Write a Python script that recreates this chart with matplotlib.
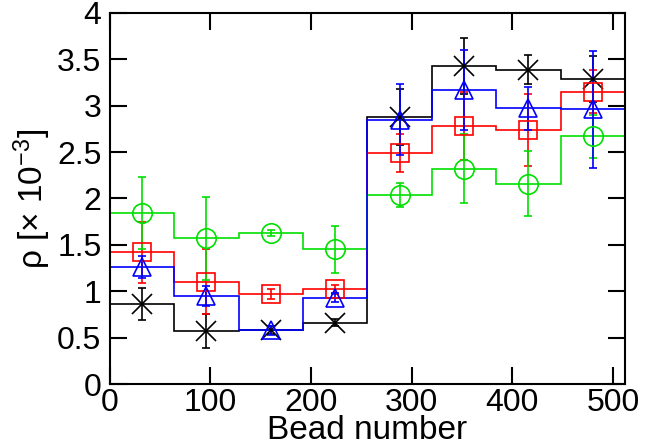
import numpy as np
import matplotlib
matplotlib.use("Agg")
import matplotlib.pyplot as plt

plt.rcParams["font.family"] = ["Liberation Sans", "DejaVu Sans"]
plt.rcParams["mathtext.fontset"] = "custom"
plt.rcParams["mathtext.rm"] = "Liberation Sans"
plt.rcParams["mathtext.default"] = "regular"

# bins of 64 beads along the chain
bin_edges = np.arange(0, 513, 64)
bin_centers = (bin_edges[:-1] + bin_edges[1:]) / 2

black_vals = [0.86, 0.57, 0.58, 0.66, 2.88, 3.43, 3.39, 3.29]
black_err = [0.17, 0.18, 0.04, 0.04, 0.30, 0.30, 0.16, 0.25]
red_vals = [1.42, 1.10, 0.97, 1.02, 2.49, 2.78, 2.74, 3.15]
red_err = [0.33, 0.35, 0.05, 0.05, 0.20, 0.37, 0.39, 0.23]
green_vals = [1.84, 1.57, 1.63, 1.45, 2.04, 2.32, 2.16, 2.67]
green_err = [0.39, 0.45, 0.03, 0.25, 0.13, 0.37, 0.35, 0.23]
blue_vals = [1.26, 0.95, 0.58, 0.93, 2.85, 3.17, 2.97, 2.96]
blue_err = [0.12, 0.11, 0.05, 0.05, 0.38, 0.43, 0.23, 0.63]

fig = plt.figure(figsize=(6.46, 4.46), dpi=100)
ax = fig.add_axes([0.170, 0.139, 0.7975, 0.832])

series = [
    (black_vals, black_err, "black", "x", 14),
    (red_vals, red_err, "red", "s", 13),
    (green_vals, green_err, "#00e000", "o", 14),
    (blue_vals, blue_err, "blue", "^", 13),
]
for vals, err, col, mk, ms in series:
    ax.stairs(vals, bin_edges, color=col, lw=1.2, baseline=None)
    ax.errorbar(bin_centers, vals, yerr=err, fmt=mk, color=col, ms=ms,
                mfc="none", mec=col, mew=1.2, elinewidth=1.2, capsize=3,
                capthick=1.2)

ax.set_xlim(0, 512)
ax.set_ylim(0, 4)
ax.set_xticks([0, 100, 200, 300, 400, 500])
ax.set_yticks(np.arange(0, 4.01, 0.5))
ax.set_yticklabels(["0", "0.5", "1", "1.5", "2", "2.5", "3", "3.5", "4"])
ax.tick_params(direction="in", length=12, width=1.5, labelsize=23,
               top=True, right=True)
ax.tick_params(axis="x", pad=3)
ax.tick_params(axis="y", pad=6)
for s in ax.spines.values():
    s.set_linewidth(1.5)

ax.set_xlabel("Bead number", fontsize=24, labelpad=-2)
ax.set_ylabel(r"ρ [× 10$^{-3}$]", fontsize=24, labelpad=3)

fig.savefig("out.png", dpi=100)
